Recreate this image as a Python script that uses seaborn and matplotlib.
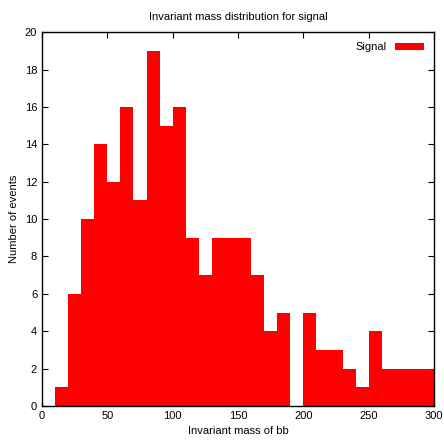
import seaborn as sns
import matplotlib.pyplot as plt
import numpy as np

sns.set_style("ticks")
plt.rcParams['font.family'] = ['Liberation Sans Narrow', 'Liberation Sans', 'DejaVu Sans']
plt.rcParams['text.color'] = 'black'
plt.rcParams['axes.labelcolor'] = 'black'
plt.rcParams['xtick.color'] = 'black'
plt.rcParams['ytick.color'] = 'black'

# histogram of invariant mass, 10 GeV bins from 0 to 300
bin_edges = list(range(0, 310, 10))
bin_centers = [5, 15, 25, 35, 45, 55, 65, 75, 85, 95, 105, 115, 125, 135, 145,
               155, 165, 175, 185, 195, 205, 215, 225, 235, 245, 255, 265, 275, 285, 295]
counts = [0, 1, 6, 10, 14, 12, 16, 11, 19, 15, 16, 9, 7, 9, 9,
          9, 7, 4, 5, 0, 5, 3, 3, 2, 1, 4, 2, 2, 2, 2]

fig = plt.figure(figsize=(4.44, 4.43), dpi=100)
ax = fig.add_axes([0.0946, 0.0835, 0.883, 0.844])

sns.histplot(x=bin_centers, weights=counts, bins=bin_edges, color="#ff0000",
             alpha=1, edgecolor="none", linewidth=0, label="Signal", ax=ax)

ax.set_xlim(0, 300)
ax.set_ylim(0, 20)
ax.set_xticks(range(0, 301, 50))
ax.set_yticks(range(0, 21, 2))
ax.tick_params(direction="in", top=True, right=True, labelsize=8, length=4, width=0.8)
for s in ax.spines.values():
    s.set_visible(True)
    s.set_linewidth(1)
    s.set_color("black")

ax.set_title("Invariant mass distribution for signal", fontsize=8, pad=9)
ax.set_xlabel("Invariant mass of bb", fontsize=8)
ax.set_ylabel("Number of events", fontsize=8)

ax.legend(loc="upper right", fontsize=8, frameon=False, handlelength=2.6,
          handleheight=0.6, markerfirst=False, borderaxespad=0.5)

plt.savefig("out.png", dpi=100)
plt.close()
